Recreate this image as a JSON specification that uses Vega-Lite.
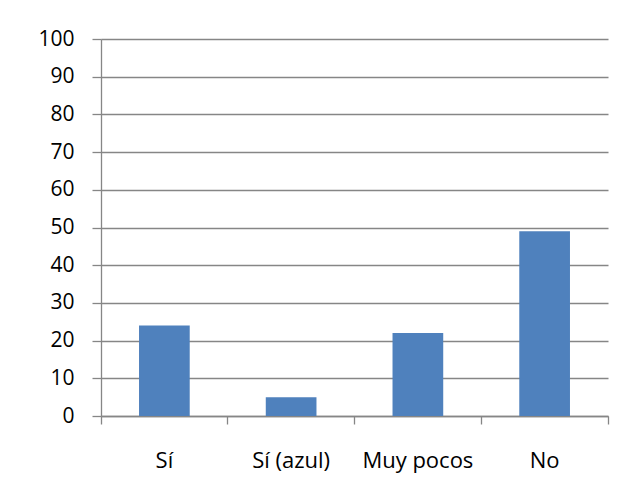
{
  "$schema": "https://vega.github.io/schema/vega-lite/v6.json",
  "autosize": {"type": "none"},
  "padding": {"left": 101, "top": 39, "right": 18, "bottom": 79},
  "width": 507,
  "height": 377,
  "background": "white",
  "config": {
    "view": {"stroke": null},
    "font": "Open Sans"
  },
  "data": {
    "values": [
      {"categoria": "Sí", "valor": 24},
      {"categoria": "Sí (azul)", "valor": 5},
      {"categoria": "Muy pocos", "valor": 22},
      {"categoria": "No", "valor": 49}
    ]
  },
  "mark": {"type": "bar", "color": "#4F81BD", "width": {"band": 0.4}},
  "encoding": {
    "x": {
      "field": "categoria",
      "type": "nominal",
      "sort": null,
      "scale": {"paddingInner": 0, "paddingOuter": 0},
      "axis": {
        "title": null,
        "labelAngle": 0,
        "labelFont": "Open Sans",
        "labelFontSize": 22,
        "labelColor": "#000000",
        "labelBaseline": "alphabetic",
        "labelPadding": 43,
        "bandPosition": 1,
        "tickExtra": true,
        "tickSize": 8,
        "tickColor": "#868686",
        "tickWidth": 1.3,
        "domainColor": "#868686",
        "domainWidth": 1.3,
        "grid": false
      }
    },
    "y": {
      "field": "valor",
      "type": "quantitative",
      "scale": {"domain": [0, 100], "nice": false},
      "axis": {
        "title": null,
        "values": [0, 10, 20, 30, 40, 50, 60, 70, 80, 90, 100],
        "labelFont": "Open Sans",
        "labelFontSize": 21,
        "labelColor": "#000000",
        "labelPadding": 18,
        "tickSize": 9,
        "tickColor": "#868686",
        "tickWidth": 1.3,
        "domainColor": "#868686",
        "domainWidth": 1.3,
        "grid": true,
        "gridColor": "#868686",
        "gridWidth": 1.3
      }
    }
  }
}
